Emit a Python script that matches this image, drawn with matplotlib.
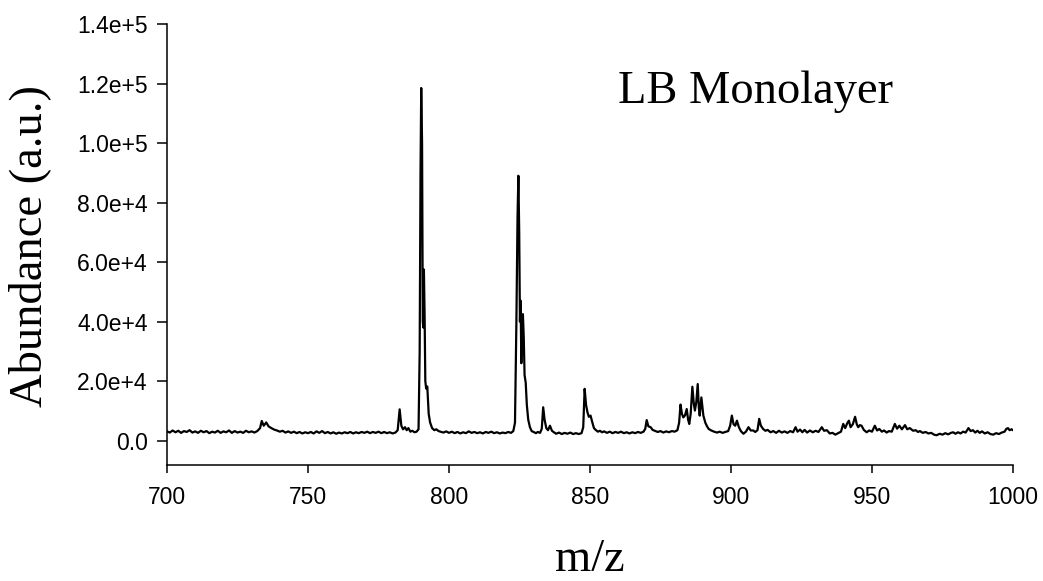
import numpy as np
import matplotlib
matplotlib.use("Agg")
import matplotlib.pyplot as plt
from matplotlib.ticker import FixedLocator, FuncFormatter

# Spectrum (m/z, abundance in a.u.)
mz = [
    700, 701, 702, 703, 704, 705, 706, 707, 708, 709, 710, 711, 712, 713, 714, 715,
    716, 717, 718, 719, 720, 721, 722, 723, 724, 725, 726, 727, 728, 729, 730, 731,
    732, 733, 733.6, 734.3, 735.2, 736, 737, 738, 739, 740, 741, 742, 743, 744,
    745, 746, 747, 748, 749, 750, 751, 752, 753, 754, 755, 756, 757, 758, 759, 760,
    761, 762, 763, 764, 765, 766, 767, 768, 769, 770, 771, 772, 773, 774, 775, 776,
    777, 778, 779, 780, 781, 781.8, 782.5, 783.1, 783.7, 784.4, 785, 785.6, 786.3,
    787, 787.8, 788.5, 789.2, 789.6, 789.9, 790.15, 790.45, 790.7, 790.9, 791.1,
    791.35, 791.6, 791.9, 792.3, 792.8, 793.3, 794, 794.8, 795.5, 796.3, 797, 798,
    799, 800, 801, 802, 803, 804, 805, 806, 807, 808, 809, 810, 811, 812, 813, 814,
    815, 816, 817, 818, 819, 820, 821, 822, 822.8, 823.4, 823.9, 824.3, 824.6,
    824.9, 825.15, 825.4, 825.65, 825.9, 826.2, 826.5, 826.8, 827.2, 827.6, 828.1,
    828.7, 829.3, 830, 830.8, 831.5, 832.3, 832.9, 833.4, 833.9, 834.5, 835.1,
    835.8, 836.5, 837.2, 838, 839, 840, 841, 842, 843, 844, 845, 846, 847, 847.6,
    848.1, 848.6, 849.1, 849.6, 850.2, 850.8, 851.4, 852, 852.8, 853.5, 854.3, 855,
    856, 857, 858, 859, 860, 861, 862, 863, 864, 865, 866, 867, 868, 869, 869.6,
    870.1, 870.7, 871.5, 872.2, 873, 874, 875, 876, 877, 878, 879, 880, 881, 881.6,
    882.1, 882.6, 883.1, 883.7, 884.3, 884.8, 885.2, 885.7, 886.3, 886.8, 887.2,
    887.7, 888.2, 888.6, 888.9, 889.5, 890.2, 890.9, 891.5, 892.1, 893, 894, 895,
    896, 897, 898, 899, 899.7, 900.3, 900.9, 901.5, 902.1, 902.8, 903.5, 904.4,
    905.3, 906.2, 907, 907.9, 908.6, 909.4, 910, 910.6, 911.4, 912.2, 913, 914, 915,
    916, 917, 918, 919, 920, 921, 922, 922.9, 923.6, 924.5, 925.3, 926.1, 927, 928,
    929, 930, 931, 932.2, 933, 934, 935, 936, 937, 938, 939, 939.8, 940.5, 941.2,
    941.8, 942.4, 943.2, 944, 944.6, 945.1, 945.7, 946.3, 947.1, 948.1, 949, 950,
    951, 951.8, 952.6, 953.5, 954.3, 955.2, 956, 957, 958.1, 958.9, 959.7, 960.6,
    961.7, 962.5, 963.4, 964.6, 965.5, 966.3, 967, 968, 969, 970, 971, 972, 972.9,
    974, 975, 976, 977, 978, 978.8, 979.6, 980.5, 981.4, 982.3, 983.2, 984.2, 985,
    985.8, 986.6, 987.4, 988.2, 989, 990, 991, 992, 993, 994, 995, 996, 997, 997.6,
    998.2, 998.8, 999.5, 1000,
]
abundance = [
    3100, 2700, 3400, 2800, 3300, 2600, 3200, 2900, 3500, 2700, 3100, 2600, 3300, 2800, 3200, 2500,
    3000, 2700, 3300, 2600, 3100, 2800, 3400, 2600, 3200, 2700, 3000, 2600, 3300, 2800, 3100, 2700,
    3200, 4200, 6600, 5000, 6100, 4800, 4200, 3700, 3400, 3000, 3300, 2700, 3100, 2600,
    3000, 2500, 2900, 2400, 2800, 2500, 2900, 2400, 3100, 2600, 3200, 2500, 2900, 2400, 2800, 2300,
    2700, 2400, 2800, 2500, 2900, 2400, 2800, 2500, 2900, 2600, 3000, 2500, 2900, 2600, 3000, 2500,
    2900, 2500, 2800, 2400, 2700, 3500, 10500, 5000, 3800, 4500, 3500, 4200, 3000,
    3300, 2800, 3000, 3800, 30000, 90000, 118500, 100000, 40000, 38000, 57500,
    42000, 20000, 17500, 18200, 9000, 6100, 4200, 3500, 3800, 3200, 3000, 2700,
    3100, 2600, 3000, 2500, 2900, 2400, 2800, 2500, 3100, 2600, 2900, 2500, 2800, 2400, 2900, 2600,
    3000, 2500, 2800, 2400, 2700, 2500, 2900, 2600, 3200, 6000, 40000, 75000, 89000,
    70000, 40000, 47000, 26000, 38000, 42500, 35000, 22000, 19500, 12000, 7000,
    4500, 3200, 2900, 2500, 2900, 2600, 4000, 11200, 7000, 4200, 3500,
    5000, 3300, 2800, 2300, 2700, 2200, 2600, 2300, 2700, 2200, 2500, 2200, 2500, 4500,
    17400, 12000, 9500, 8000, 8400, 6200, 4200, 3600, 3000, 3300, 2800, 3100,
    2600, 3000, 2500, 2900, 2600, 3000, 2500, 2800, 2400, 2800, 2500, 2900, 2600, 3000, 4000,
    6900, 4800, 4500, 3600, 3300, 2900, 3200, 2700, 3100, 2800, 3200, 3000, 3500, 6000,
    12100, 9000, 7800, 8500, 10600, 7000, 5600, 9000, 18100, 12500, 10100,
    13000, 19000, 11000, 8400, 14500, 8400, 6000, 4800, 3900, 3400, 3000, 2700,
    3000, 2600, 2900, 3200, 5000, 8400, 5500, 5000, 6700, 4500, 3200, 2300,
    3000, 4500, 3400, 3400, 2900, 3500, 7300, 5000, 3900, 3300, 3600, 2800, 3200,
    2600, 3300, 2700, 3100, 2600, 3200, 2800, 4500, 3000, 3700, 2800, 3600, 2700, 3400,
    2800, 3300, 2900, 4500, 3300, 3500, 2400, 2600, 2000, 2500, 3000, 5600, 4200, 5800,
    6700, 4500, 5500, 8000, 5500, 4500, 5200, 5000, 3600, 2800, 3400, 3000,
    5000, 3400, 3900, 3000, 3400, 2700, 3200, 3000, 5600, 4000, 5000, 3800,
    5200, 3800, 4200, 3300, 3500, 2900, 3200, 2600, 2900, 2400, 2600, 2000, 1800,
    2300, 2000, 2500, 2100, 2600, 2800, 2300, 2800, 2400, 3000, 2700, 4200, 3200,
    3500, 2700, 3300, 2600, 3100, 2400, 2800, 2200, 2000, 2500, 2200, 2700, 3000, 3900,
    4200, 3500, 3800, 3500,
]

x_ticks = [700, 750, 800, 850, 900, 950, 1000]
y_ticks = [0, 2e4, 4e4, 6e4, 8e4, 1e5, 1.2e5, 1.4e5]
y_tick_labels = ["0.0", "2.0e+4", "4.0e+4", "6.0e+4", "8.0e+4", "1.0e+5", "1.2e+5", "1.4e+5"]

serif = ["Liberation Serif", "DejaVu Serif"]
sans = ["Liberation Sans", "DejaVu Sans"]

fig = plt.figure(figsize=(10.43, 5.81), dpi=100)
ax = fig.add_axes([167 / 1043, 1 - 465 / 581, 846 / 1043, 441 / 581])

ax.plot(mz, abundance, color="black", lw=1.6)

ax.set_xlim(700, 1000)
ax.set_ylim(-8200, 1.4e5)
ax.xaxis.set_major_locator(FixedLocator(x_ticks))
ax.yaxis.set_major_locator(FixedLocator(y_ticks))
ax.set_yticklabels(y_tick_labels)

for side in ["top", "right"]:
    ax.spines[side].set_visible(False)
for side in ["left", "bottom"]:
    ax.spines[side].set_linewidth(1.1)

ax.tick_params(axis="x", direction="out", length=6, width=1.1, pad=9, labelsize=16.5)
ax.tick_params(axis="y", direction="out", length=7, width=1.1, pad=7, labelsize=16.5)
for lab in ax.get_xticklabels() + ax.get_yticklabels():
    lab.set_family(sans)

fig.text(618 / 1043, 1 - 103 / 581, "LB Monolayer", family=serif, fontsize=33.5,
         ha="left", va="baseline")
fig.text(30 / 1043, 1 - 246 / 581, "Abundance (a.u.)", family=serif, fontsize=33.5,
         rotation=90, ha="center", va="center")
fig.text(590 / 1043, 1 - 560 / 581, "m/z", family=serif, fontsize=33.5,
         ha="center", va="center")

fig.savefig("out.png", dpi=100)
